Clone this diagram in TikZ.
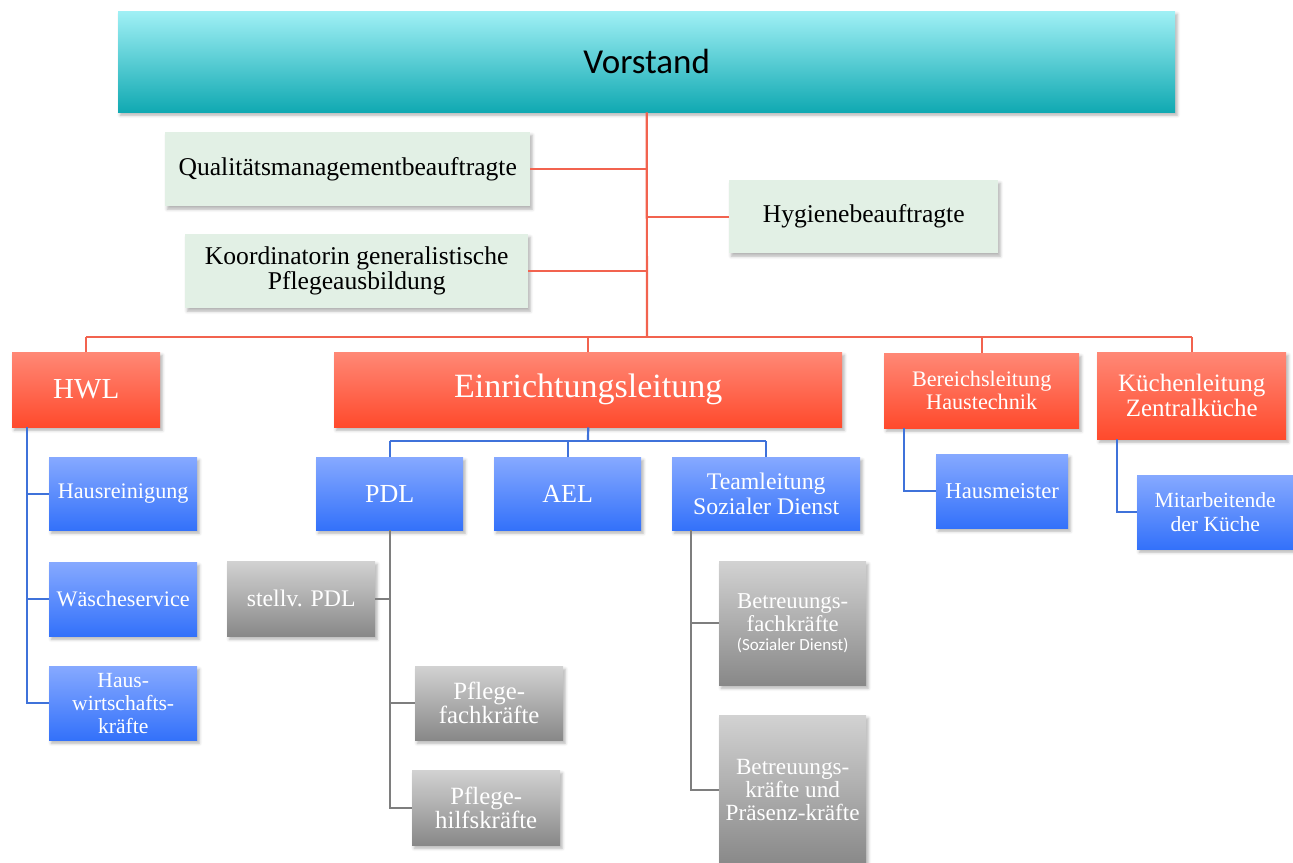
\documentclass[tikz,border=0pt]{standalone}
\usepackage{fontspec}
\setmainfont{Liberation Serif}
\newfontfamily\calib{Carlito}
\usetikzlibrary{shadows.blur}
\definecolor{vtop}{HTML}{A0F0F5}
\definecolor{vbot}{HTML}{10A9B2}
\definecolor{rtop}{HTML}{FF8876}
\definecolor{rbot}{HTML}{FF4A2C}
\definecolor{btop}{HTML}{86A9FF}
\definecolor{bbot}{HTML}{3371FA}
\definecolor{gtop}{HTML}{D2D2D2}
\definecolor{gbot}{HTML}{888888}
\definecolor{grn}{HTML}{E2F0E5}
\definecolor{rline}{HTML}{F2634F}
\definecolor{bline}{HTML}{3F72DA}
\definecolor{gline}{HTML}{7E7E7E}
\newcommand\fsz[2]{\fontsize{#1}{#2}\selectfont}
\tikzset{
  base/.style={anchor=north west, inner sep=0pt, align=center,
    blur shadow={shadow xshift=2pt, shadow yshift=-3pt, shadow blur radius=3pt, shadow opacity=30}},
  vbox/.style={base, top color=vtop, bottom color=vbot, text=black},
  gbox/.style={base, fill=grn, text=black},
  redbox/.style={base, top color=rtop, bottom color=rbot, text=white},
  bluebox/.style={base, top color=btop, bottom color=bbot, text=white},
  graybox/.style={base, top color=gtop, bottom color=gbot, text=white},
  rl/.style={draw=rline, line width=2.2pt},
  bl/.style={draw=bline, line width=2.2pt},
  gl/.style={draw=gline, line width=2.2pt},
}
\begin{document}
\begin{tikzpicture}[x=1pt,y=-1pt]
\useasboundingbox (0,0) rectangle (1293,862);
\coordinate (rb) at (647,337);
\coordinate (bb) at (588,441);
\coordinate (hwlv) at (27,427);
\coordinate (blv) at (904,428);
\coordinate (klv) at (1117,439);
\coordinate (pdlv) at (390,530);
\coordinate (tlv) at (691,530);

\node[vbox, minimum width=1057pt, minimum height=101pt, font={\calib\fsz{35}{40}}] (vorstand) at (118,11) {Vorstand};
\node[gbox, minimum width=365pt, minimum height=74pt, font={\fsz{25.6}{25}}] (qm) at (165,132) {Qualitätsmanagementbeauftragte};
\node[gbox, minimum width=343pt, minimum height=74pt, font={\fsz{25.6}{25}}] (koord) at (185,234) {Koordinatorin generalistische\\Pflegeausbildung};
\node[gbox, minimum width=269pt, minimum height=73pt, font={\fsz{25.6}{25}}] (hyg) at (729,180) {Hygienebeauftragte};

\node[redbox, minimum width=148pt, minimum height=75pt, font={\fsz{29}{30}}] (hwl) at (12,352) {HWL};
\node[redbox, minimum width=508pt, minimum height=75pt, font={\fsz{34}{36}}] (el) at (334,352) {Einrichtungsleitung};
\node[redbox, minimum width=195pt, minimum height=75pt, font={\fsz{22.2}{23}}] (bl) at (884,353) {Bereichsleitung\\Haustechnik};
\node[redbox, minimum width=189pt, minimum height=87pt, font={\fsz{25}{25}}] (kl) at (1097,352) {Küchenleitung\\Zentralküche};

\node[bluebox, minimum width=147pt, minimum height=73pt, font={\fsz{26}{26}}] (pdl) at (316,457) {PDL};
\node[bluebox, minimum width=147pt, minimum height=73pt, font={\fsz{26}{26}}] (ael) at (494,457) {AEL};
\node[bluebox, minimum width=188pt, minimum height=73pt, font={\fsz{23.8}{25}}] (tl) at (672,457) {Teamleitung\\Sozialer Dienst};

\node[bluebox, minimum width=148pt, minimum height=73pt, font={\fsz{22.2}{23}}] (hr) at (49,457) {Hausreinigung};
\node[bluebox, minimum width=148pt, minimum height=74pt, font={\fsz{22.2}{23}}] (ws) at (49,562) {Wäscheservice};
\node[bluebox, minimum width=148pt, minimum height=74pt, font={\fsz{21.6}{23}}] (hwk) at (49,666) {Haus-\\wirtschafts-\\kräfte};
\node[bluebox, minimum width=132pt, minimum height=74pt, font={\fsz{22.7}{23}}] (hm) at (936,454) {Hausmeister};
\node[bluebox, minimum width=156pt, minimum height=74pt, font={\fsz{21.6}{24}}] (mk) at (1137,475) {Mitarbeitende\\der Küche};

\node[graybox, minimum width=148pt, minimum height=75pt, font={\fsz{23.8}{24}}] (spdl) at (227,561) {stellv. PDL};
\node[graybox, minimum width=148pt, minimum height=74pt, font={\fsz{24.8}{24}}] (pfk) at (415,666) {Pflege-\\fachkräfte};
\node[graybox, minimum width=148pt, minimum height=75pt, font={\fsz{24.8}{24}}] (phk) at (412,770) {Pflege-\\hilfskräfte};
\node[graybox, minimum width=147pt, minimum height=124pt, font={\fsz{22.7}{23}}] (bfk) at (719,561) {Betreuungs-\\fachkräfte\\[-4pt]{\calib\fsz{17}{18}(Sozialer Dienst)}};
\node[graybox, minimum width=147pt, minimum height=150pt, font={\fsz{23.2}{23}}] (bpk) at (719,715) {Betreuungs-\\kräfte und\\Präsenz-kräfte};

% red connectors
\draw[rl] (vorstand.south) -- (rb);
\draw[rl] (qm.east) -- (qm.east -| rb);
\draw[rl] (koord.east) -- (koord.east -| rb);
\draw[rl] (hyg.west) -- (hyg.west -| rb);
\draw[rl] (hwl.north |- rb) -- (kl.north |- rb);
\draw[rl] (hwl.north) -- (hwl.north |- rb);
\draw[rl] (el.north) -- (el.north |- rb);
\draw[rl] (bl.north) -- (bl.north |- rb);
\draw[rl] (kl.north) -- (kl.north |- rb);

% blue connectors
\draw[bl] (el.south) -- (bb);
\draw[bl] (pdl.north |- bb) -- (tl.north |- bb);
\draw[bl] (pdl.north) -- (pdl.north |- bb);
\draw[bl] (ael.north) -- (ael.north |- bb);
\draw[bl] (tl.north) -- (tl.north |- bb);
\draw[bl] (hwlv) |- (hwk.west);
\draw[bl] (hwlv |- hr.west) -- (hr.west);
\draw[bl] (hwlv |- ws.west) -- (ws.west);
\draw[bl] (blv) |- (hm.west);
\draw[bl] (klv) |- (mk.west);

% gray connectors
\draw[gl] (pdlv) |- (phk.west);
\draw[gl] (pdlv |- spdl.east) -- (spdl.east);
\draw[gl] (pdlv |- pfk.west) -- (pfk.west);
\draw[gl] (tlv) |- (bpk.west);
\draw[gl] (tlv |- bfk.west) -- (bfk.west);
\end{tikzpicture}
\end{document}
